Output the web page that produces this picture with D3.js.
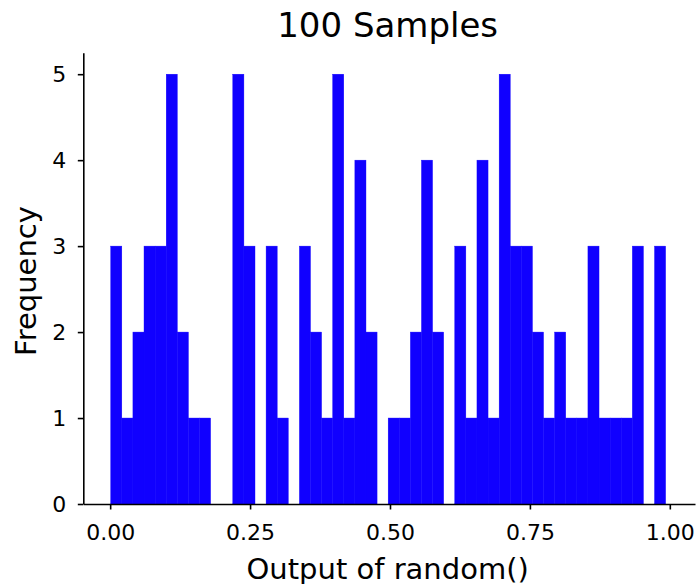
<!DOCTYPE html>
<html>
<head>
<meta charset="utf-8">
<title></title>
<script src="https://cdn.jsdelivr.net/npm/d3@7"></script>
<style>
  body { margin: 0; background: #fff; }
  text { font-family: "DejaVu Sans", sans-serif; }
</style>
</head>
<body>
<svg id="svg"></svg>
<script>
var width = 697;
var height = 584;

// histogram counts, 50 bins between the sample min and max
var counts = [3, 1, 2, 3, 3, 5, 2, 1, 1, 0,
              0, 5, 3, 0, 3, 1, 0, 3, 2, 1,
              5, 1, 4, 2, 0, 1, 1, 2, 4, 2,
              0, 3, 1, 4, 1, 5, 3, 3, 2, 1,
              2, 1, 1, 3, 1, 1, 1, 3, 0, 3];
var binLo = 0.001;
var binHi = 0.9925;
var xTicks = [0, 0.25, 0.5, 0.75, 1.0];
var yTicks = [0, 1, 2, 3, 4, 5];

var binW = (binHi - binLo) / counts.length;
var bins = counts.map(function (c, i) {
    return { x0: binLo + i * binW, x1: binLo + (i + 1) * binW, n: c };
});

var plotL = 83.3, plotR = 695, plotT = 52.7, plotB = 504;

var x = d3.scaleLinear().domain([-0.048, 1.045]).range([plotL, plotR]);
var y = d3.scaleLinear().domain([0, 5.25]).range([plotB, plotT]);

var svg = d3.select('#svg')
    .attr('width', width)
    .attr('height', height);

svg.selectAll('rect.bar')
    .data(bins.filter(function (d) { return d.n > 0; }))
    .join('rect')
    .attr('class', 'bar')
    .attr('x', function (d) { return x(d.x0); })
    .attr('width', function (d) { return x(d.x1) - x(d.x0); })
    .attr('y', function (d) { return y(d.n); })
    .attr('height', function (d) { return y(0) - y(d.n); })
    .attr('fill', '#1000ff')
    .attr('stroke', '#1000ff')
    .attr('stroke-width', 0.4);

var xAxis = svg.append('g')
    .attr('transform', 'translate(0,' + plotB + ')')
    .call(d3.axisBottom(x).tickValues(xTicks).tickFormat(d3.format('.2f'))
        .tickSize(5.5).tickSizeOuter(0).tickPadding(15));

var yAxis = svg.append('g')
    .attr('transform', 'translate(' + plotL + ',0)')
    .call(d3.axisLeft(y).tickValues(yTicks).tickFormat(d3.format('d'))
        .tickSize(5.5).tickSizeOuter(0).tickPadding(11.5));

[xAxis, yAxis].forEach(function (g) {
    g.select('.domain').attr('stroke', '#000').attr('stroke-width', 1.6);
    g.selectAll('.tick line').attr('stroke', '#000').attr('stroke-width', 1.6);
    g.selectAll('.tick text')
        .attr('fill', '#000')
        .style('font-family', '"DejaVu Sans", sans-serif')
        .style('font-size', '22px');
});

svg.append('text')
    .attr('x', (plotL + plotR) / 2 - 1.5)
    .attr('y', 36.7)
    .attr('text-anchor', 'middle')
    .style('font-size', '34px')
    .text('100 Samples');

svg.append('text')
    .attr('x', (plotL + plotR) / 2 - 1.5)
    .attr('y', 579)
    .attr('text-anchor', 'middle')
    .style('font-size', '29px')
    .text('Output of random()');

svg.append('text')
    .attr('transform', 'translate(36,281) rotate(-90)')
    .attr('text-anchor', 'middle')
    .style('font-size', '29px')
    .text('Frequency');
</script>
</body>
</html>
